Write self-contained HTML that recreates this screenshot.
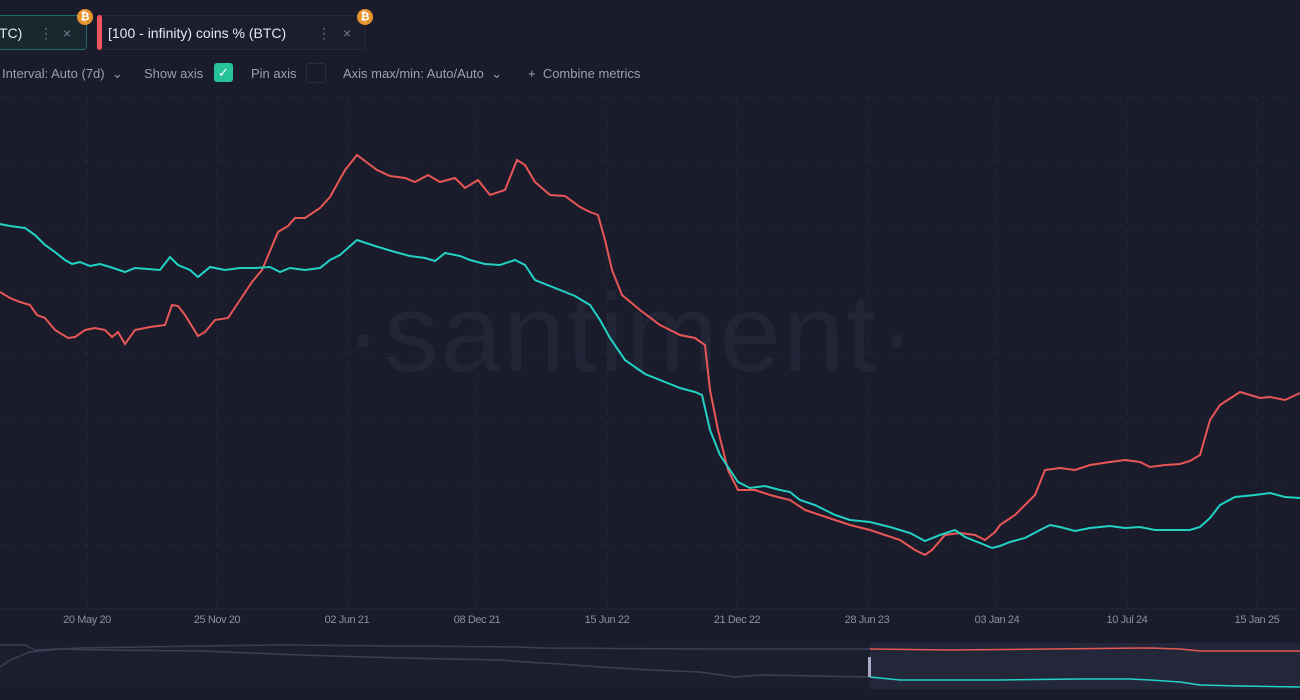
<!DOCTYPE html>
<html><head><meta charset="utf-8"><style>
body{margin:0;width:1300px;height:700px;background:#1a1c2b;overflow:hidden;font-family:"Liberation Sans",sans-serif;position:relative}
.card{position:absolute;top:15px;height:35px;border-radius:4px;color:#e6e8f0;font-size:14px;line-height:35px;box-sizing:border-box;white-space:nowrap}
.btc{position:absolute;width:16px;height:16px;border-radius:50%;background:#e8942e;color:#fff;font-size:11px;font-weight:bold;text-align:center;line-height:16px;top:9px}
.tb{position:absolute;top:66px;color:#9a9fb2;font-size:13px;white-space:nowrap}
.xl{position:absolute;top:614px;color:#8a8fa3;font-size:11px;transform:translateX(-50%);white-space:nowrap;letter-spacing:-0.4px}
</style></head><body>
<div class="card" style="left:-10px;width:97px;border:1px solid #1e6e6a;background:#19282f;padding-left:8px">TC)<span style="position:absolute;left:48px;color:#777c90">⋮</span><span style="position:absolute;left:72px;color:#777c90">×</span></div>
<div class="btc" style="left:77px">₿</div>
<div class="card" style="left:96px;width:270px;border:1px solid #24283a;background:#1b1e2d;padding-left:11px"><span style="position:absolute;left:0;top:-1px;width:5px;height:35px;background:#f0555a;border-radius:3px"></span>[100 - infinity) coins % (BTC)<span style="position:absolute;left:220px;color:#777c90">⋮</span><span style="position:absolute;left:246px;color:#777c90">×</span></div>
<div class="btc" style="left:357px">₿</div>
<div class="tb" style="left:2px">Interval: Auto (7d) &nbsp;⌄</div>
<div class="tb" style="left:144px">Show axis</div>
<div style="position:absolute;left:214px;top:63px;width:19px;height:19px;background:#26c39a;border-radius:3px;color:#fff;font-size:13px;text-align:center;line-height:19px">✓</div>
<div class="tb" style="left:251px">Pin axis</div>
<div style="position:absolute;left:306px;top:63px;width:18px;height:18px;border:1px solid #2a2e40;border-radius:3px"></div>
<div class="tb" style="left:343px">Axis max/min: Auto/Auto &nbsp;⌄</div>
<div class="tb" style="left:528px">+ &nbsp;Combine metrics</div>
<div style="position:absolute;left:345px;top:270px;font-size:110px;color:#21253600;color:#212535;letter-spacing:2px;white-space:nowrap">·santiment·</div>
<svg width="1300" height="700" style="position:absolute;left:0;top:0">
<g stroke="#23263a" stroke-dasharray="6,6" stroke-width="1">
<line x1="0" y1="97" x2="1300" y2="97"/><line x1="0" y1="162" x2="1300" y2="162"/><line x1="0" y1="226" x2="1300" y2="226"/><line x1="0" y1="290" x2="1300" y2="290"/><line x1="0" y1="354" x2="1300" y2="354"/><line x1="0" y1="418" x2="1300" y2="418"/><line x1="0" y1="482" x2="1300" y2="482"/><line x1="0" y1="545" x2="1300" y2="545"/>
<line x1="87" y1="97" x2="87" y2="608"/><line x1="217" y1="97" x2="217" y2="608"/><line x1="347" y1="97" x2="347" y2="608"/><line x1="477" y1="97" x2="477" y2="608"/><line x1="607" y1="97" x2="607" y2="608"/><line x1="737" y1="97" x2="737" y2="608"/><line x1="867" y1="97" x2="867" y2="608"/><line x1="997" y1="97" x2="997" y2="608"/><line x1="1127" y1="97" x2="1127" y2="608"/><line x1="1257" y1="97" x2="1257" y2="608"/>
</g>
<line x1="0" y1="609" x2="1300" y2="609" stroke="#232637"/>
<polyline fill="none" stroke="#e85656" stroke-width="2" points="0,292 10,298 20,302 30,305 37,315 45,318 55,330 68,338 75,337 85,330 95,328 105,330 112,337 118,332 125,344 135,330 150,327 165,325 172,305 178,306 185,315 198,336 205,332 215,320 228,318 240,300 252,282 262,270 278,232 288,226 295,218 305,218 320,208 330,197 345,170 357,155 377,170 390,176 405,178 415,182 428,175 440,182 455,178 465,188 478,180 490,195 505,190 517,160 525,165 535,182 550,195 565,196 580,207 590,212 598,215 605,240 612,270 622,295 640,310 660,325 680,335 695,338 705,345 710,390 718,430 728,470 738,490 755,490 770,495 790,500 805,510 820,515 835,520 850,525 870,530 885,535 900,540 915,550 925,555 932,550 945,535 960,533 975,535 985,540 995,532 1000,525 1015,515 1025,505 1035,495 1045,470 1060,468 1075,470 1090,465 1110,462 1125,460 1140,462 1150,467 1165,465 1180,464 1190,461 1200,455 1210,420 1220,405 1240,392 1260,398 1270,397 1285,400 1300,393"/>
<polyline fill="none" stroke="#22d3c5" stroke-width="2" points="0,224 10,226 25,228 35,235 45,245 55,252 65,260 72,264 80,262 90,266 100,264 110,267 125,272 135,268 160,270 170,257 178,265 190,270 198,277 210,267 225,270 240,268 255,268 270,267 280,272 290,268 305,270 320,268 330,260 340,255 357,240 375,246 395,252 410,256 425,258 435,261 445,253 460,256 470,260 485,264 500,265 515,260 525,265 535,280 555,288 575,296 590,305 600,320 610,338 625,360 645,374 665,382 680,388 695,392 702,395 710,430 720,455 730,470 738,482 750,488 765,486 780,490 790,492 800,500 815,505 835,515 850,520 870,522 890,527 910,533 925,541 940,535 955,530 965,537 980,543 992,548 1000,546 1010,542 1025,538 1040,530 1050,525 1060,527 1075,531 1090,528 1110,526 1125,528 1140,527 1155,530 1175,530 1190,530 1200,527 1210,518 1220,505 1235,497 1255,495 1270,493 1285,497 1300,498"/>
<rect x="0" y="643" width="1300" height="46" fill="#1b1e2c"/>
<rect x="870" y="643" width="430" height="46" fill="#232739"/>
<polyline fill="none" stroke="#3b3f56" stroke-width="1.5" points="0,645 25,645 35,650 80,648 200,646 280,645 400,646 520,647 540,648 700,649 870,649"/>
<polyline fill="none" stroke="#3b3f56" stroke-width="1.5" points="0,667 10,660 30,652 60,649 100,650 200,651 300,655 400,658 500,660 540,663 560,664 600,667 650,670 700,672 735,677 760,675 870,677"/>
<polyline fill="none" stroke="#e85656" stroke-width="1.5" points="870,649 950,650 1050,649 1150,648 1180,649 1200,651 1300,651"/>
<polyline fill="none" stroke="#22d3c5" stroke-width="1.5" points="870,677 900,680 1000,680 1080,679 1130,679 1150,680 1180,682 1200,685 1240,686 1300,687"/>
<rect x="868" y="657" width="3" height="20" fill="#a9a9c9"/>
</svg>
<div class="xl" style="left:87px">20 May 20</div><div class="xl" style="left:217px">25 Nov 20</div><div class="xl" style="left:347px">02 Jun 21</div><div class="xl" style="left:477px">08 Dec 21</div><div class="xl" style="left:607px">15 Jun 22</div><div class="xl" style="left:737px">21 Dec 22</div><div class="xl" style="left:867px">28 Jun 23</div><div class="xl" style="left:997px">03 Jan 24</div><div class="xl" style="left:1127px">10 Jul 24</div><div class="xl" style="left:1257px">15 Jan 25</div>
</body></html>
